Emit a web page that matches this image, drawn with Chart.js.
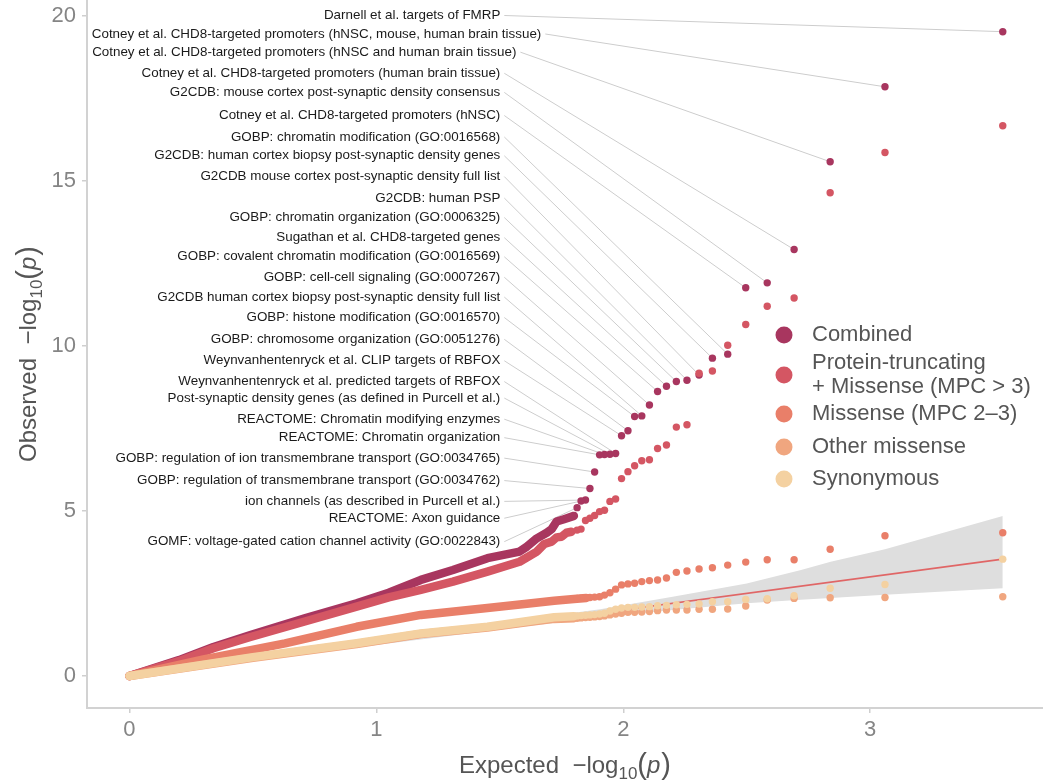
<!DOCTYPE html>
<html lang="en">
<head>
<meta charset="UTF-8">
<title>Gene set QQ plot</title>
<script src="https://cdn.jsdelivr.net/npm/chart.js"></script>
<style>
  html, body { margin: 0; padding: 0; background: #fff; }
  #qq { display: block; }
</style>
</head>
<body>
<canvas id="qq" width="1043" height="782"></canvas>
<script>
// expected -log10(p) for the 27 top ranked gene sets
const expected = [3.537, 3.060, 2.838, 2.692, 2.583, 2.496, 2.423, 2.361, 2.307, 2.258, 2.215, 2.175, 2.139,
  2.106, 2.075, 2.046, 2.019, 1.993, 1.969, 1.946, 1.924, 1.904, 1.884, 1.865, 1.847, 1.829, 1.813];

// observed -log10(p) at those ranks
const combinedTop = [19.52, 17.85, 15.58, 12.92, 11.91, 11.76, 9.75, 9.63, 9.12, 8.96, 8.92, 8.78, 8.62,
  8.21, 7.88, 7.86, 7.43, 7.28, 6.74, 6.72, 6.71, 6.70, 6.18, 5.68, 5.33, 5.30, 5.10];
const ptTop = [16.67, 15.86, 14.64, 11.45, 11.20, 10.65, 10.02, 9.24, 9.17, 7.61, 7.54, 7.00, 6.89,
  6.55, 6.52, 6.37, 6.19, 5.98, 5.36, 5.29, 5.02, 4.98, 4.86, 4.78, 4.71, 4.45, 4.42];
const missenseTop = [4.34, 4.25, 3.84, 3.52, 3.52, 3.45, 3.36, 3.28, 3.24, 3.18, 3.14, 2.97, 2.91,
  2.89, 2.86, 2.81, 2.79, 2.76, 2.63, 2.52, 2.45, 2.40, 2.39, 2.38, 2.37, 2.36, 2.35];
const otherTop = [2.40, 2.38, 2.37, 2.35, 2.30, 2.12, 2.03, 2.02, 2.02, 2.00, 2.00, 2.00, 1.98,
  1.95, 1.94, 1.93, 1.93, 1.90, 1.88, 1.85, 1.82, 1.80, 1.79, 1.78, 1.77, 1.76, 1.75];
const synTop = [3.54, 2.77, 2.66, 2.43, 2.34, 2.32, 2.25, 2.25, 2.18, 2.17, 2.16, 2.14, 2.13,
  2.10, 2.09, 2.08, 2.08, 2.06, 2.02, 1.97, 1.90, 1.88, 1.86, 1.85, 1.84, 1.83, 1.82];

// the dense bulk of each series (hundreds of overlapping points), [expected, observed]
const combinedBulk = [[0,0],[0.1,0.24],[0.2,0.48],[0.34,0.88],[0.49,1.24],[0.71,1.75],[0.92,2.2],[1.05,2.52],
  [1.18,2.91],[1.31,3.21],[1.45,3.57],[1.58,3.77],[1.61,3.92],[1.65,4.17],[1.69,4.34],[1.71,4.45],[1.73,4.68],[1.76,4.75],[1.80,4.85]];
const ptBulk = [[0,0],[0.2,0.45],[0.34,0.84],[0.49,1.18],[0.71,1.65],[0.92,2.1],[1.05,2.38],[1.18,2.61],
  [1.31,2.86],[1.45,3.16],[1.58,3.46],[1.65,3.77],[1.68,4.0],[1.71,4.07],[1.73,4.2],[1.75,4.22],[1.77,4.34],[1.79,4.37]];
const missenseBulk = [[0,0],[0.3,0.5],[0.63,0.99],[0.92,1.49],[1.18,1.85],[1.44,2.05],[1.6,2.18],[1.72,2.28],[1.8,2.33],[1.85,2.36]];
const otherBulk = [[0,0],[0.5,0.55],[0.92,0.97],[1.18,1.27],[1.45,1.47],[1.6,1.62],[1.72,1.73],[1.8,1.75]];
const synBulk = [[0,0],[0.5,0.57],[0.92,0.99],[1.18,1.29],[1.45,1.49],[1.6,1.65],[1.72,1.78],[1.8,1.81]];

// null expectation and its 95% band
const nullLine = [[0, 0], [3.537, 3.54]];
const bandX = [0, 0.5, 1.0, 1.3, 1.6, 1.907, 2.2, 2.5, 2.72, 2.84, 3.06, 3.537];
const bandHigh = [0.02, 0.56, 1.08, 1.40, 1.72, 2.02, 2.40, 2.80, 3.21, 3.46, 3.84, 4.85];
const bandLow = [0, 0.46, 0.94, 1.22, 1.50, 1.78, 2.0, 2.2, 2.31, 2.36, 2.46, 2.66];

const xTicks = [0, 1, 2, 3];
const yTicks = [0, 5, 10, 15, 20];

const seriesNames = ['Combined', ['Protein-truncating', '+ Missense (MPC > 3)'], 'Missense (MPC 2\u20133)', 'Other missense', 'Synonymous'];

// labelled gene sets, in Combined rank order
const geneSets = [
  'Darnell et al. targets of FMRP',
  'Cotney et al. CHD8-targeted promoters (hNSC, mouse, human brain tissue)',
  'Cotney et al. CHD8-targeted promoters (hNSC and human brain tissue)',
  'Cotney et al. CHD8-targeted promoters (human brain tissue)',
  'G2CDB: mouse cortex post-synaptic density consensus',
  'Cotney et al. CHD8-targeted promoters (hNSC)',
  'GOBP: chromatin modification (GO:0016568)',
  'G2CDB: human cortex biopsy post-synaptic density genes',
  'G2CDB mouse cortex post-synaptic density full list',
  'G2CDB: human PSP',
  'GOBP: chromatin organization (GO:0006325)',
  'Sugathan et al. CHD8-targeted genes',
  'GOBP: covalent chromatin modification (GO:0016569)',
  'GOBP: cell-cell signaling (GO:0007267)',
  'G2CDB human cortex biopsy post-synaptic density full list',
  'GOBP: histone modification (GO:0016570)',
  'GOBP: chromosome organization (GO:0051276)',
  'Weynvanhentenryck et al. CLIP targets of RBFOX',
  'Weynvanhentenryck et al. predicted targets of RBFOX',
  'Post-synaptic density genes (as defined in Purcell et al.)',
  'REACTOME: Chromatin modifying enzymes',
  'REACTOME: Chromatin organization',
  'GOBP: regulation of ion transmembrane transport (GO:0034765)',
  'GOBP: regulation of transmembrane transport (GO:0034762)',
  'ion channels (as described in Purcell et al.)',
  'REACTOME: Axon guidance',
  'GOMF: voltage-gated cation channel activity (GO:0022843)'
];
// where the repelled labels sit (right edge x, centre y)
const labelY = [20.01, 19.45, 18.90, 18.26, 17.68, 16.98, 16.33, 15.76, 15.13, 14.48, 13.89, 13.28, 12.70,
  12.08, 11.48, 10.86, 10.20, 9.55, 8.92, 8.42, 7.78, 7.22, 6.60, 5.92, 5.29, 4.78, 4.07];
const labelX = geneSets.map((s, i) => i === 1 ? 1.668 : i === 2 ? 1.567 : 1.502);

const colors = ['#a8365f', '#d45663', '#e97f69', '#f0a67f', '#f4d1a1'];
const FONT = '"Liberation Sans", Arial, sans-serif';

const pairs = arr => arr.map(p => ({x: p[0], y: p[1]}));
const ranked = vals => vals.map((v, i) => ({x: expected[i], y: v}));

function pointSet(vals, c) {
  return {type: 'scatter', data: ranked(vals), backgroundColor: c, pointRadius: 3.7, pointBorderWidth: 0};
}
function bulkSet(arr, c) {
  return {type: 'line', data: pairs(arr), borderColor: c, borderWidth: 8.5, pointRadius: 0,
    borderCapStyle: 'round', borderJoinStyle: 'round', tension: 0, fill: false};
}

// first dataset is drawn on top
const datasets = [
  pointSet(synTop, colors[4]), bulkSet(synBulk, colors[4]),
  pointSet(otherTop, colors[3]), bulkSet(otherBulk, colors[3]),
  pointSet(missenseTop, colors[2]), bulkSet(missenseBulk, colors[2]),
  pointSet(ptTop, colors[1]), bulkSet(ptBulk, colors[1]),
  pointSet(combinedTop, colors[0]), bulkSet(combinedBulk, colors[0]),
  {type: 'line', data: pairs(nullLine), borderColor: '#e06666', borderWidth: 1.6, pointRadius: 0, fill: false},
  {type: 'line', data: bandX.map((x, i) => ({x, y: bandHigh[i]})), borderWidth: 0, pointRadius: 0,
    backgroundColor: '#dedede', fill: '+1', tension: 0},
  {type: 'line', data: bandX.map((x, i) => ({x, y: bandLow[i]})), borderWidth: 0, pointRadius: 0, fill: false, tension: 0}
];

// draws a run of text pieces (for -log10(p)) starting at x
function mathRun(ctx, parts, x, y) {
  parts.forEach(p => {
    ctx.font = (p.italic ? 'italic ' : '') + p.size + 'px ' + FONT;
    ctx.fillText(p.t, x, y + (p.dy || 0));
    x += ctx.measureText(p.t).width + (p.gap || 0);
  });
}
function mathWidth(ctx, parts) {
  return parts.reduce((w, p) => {
    ctx.font = (p.italic ? 'italic ' : '') + p.size + 'px ' + FONT;
    return w + ctx.measureText(p.t).width + (p.gap || 0);
  }, 0);
}
const logParts = word => [
  {t: word + '  \u2212log', size: 24},
  {t: '10', size: 17, dy: 6},
  {t: '(', size: 29, dy: 1},
  {t: 'p', size: 24, italic: true, gap: 1},
  {t: ')', size: 29, dy: 1}
];

const decorations = {
  id: 'decorations',
  beforeDatasetsDraw(chart) {
    const {ctx, scales: {x, y}} = chart;
    ctx.save();
    ctx.strokeStyle = '#cdcdcd';
    ctx.lineWidth = 1;
    geneSets.forEach((name, i) => {
      ctx.beginPath();
      ctx.moveTo(x.getPixelForValue(labelX[i]) + 4, y.getPixelForValue(labelY[i]));
      ctx.lineTo(x.getPixelForValue(expected[i]), y.getPixelForValue(combinedTop[i]));
      ctx.stroke();
    });
    ctx.restore();
  },
  afterDatasetsDraw(chart) {
    const {ctx, scales: {x, y}} = chart;
    ctx.save();
    // gene set labels
    ctx.font = '13.4px ' + FONT;
    ctx.fillStyle = '#1a1a1a';
    ctx.textAlign = 'right';
    ctx.textBaseline = 'middle';
    geneSets.forEach((name, i) => {
      ctx.fillText(name, x.getPixelForValue(labelX[i]), y.getPixelForValue(labelY[i]));
    });
    // legend
    const rows = [335, 375, 414, 447, 479];
    ctx.textAlign = 'left';
    ctx.font = '22px ' + FONT;
    seriesNames.forEach((name, i) => {
      ctx.fillStyle = colors[i];
      ctx.beginPath();
      ctx.arc(784, rows[i], 8.5, 0, Math.PI * 2);
      ctx.fill();
      ctx.fillStyle = '#555555';
      const lines = Array.isArray(name) ? name : [name];
      lines.forEach((l, j) => {
        ctx.fillText(l, 812, rows[i] + (j - (lines.length - 1) / 2) * 24);
      });
    });
    ctx.restore();
  },
  afterDraw(chart) {
    const {ctx, chartArea: a} = chart;
    ctx.save();
    ctx.fillStyle = '#555555';
    ctx.textBaseline = 'alphabetic';
    ctx.textAlign = 'left';
    const xp = logParts('Expected');
    mathRun(ctx, xp, (a.left + a.right) / 2 - mathWidth(ctx, xp) / 2, 773);
    const yp = logParts('Observed');
    ctx.translate(36, (a.top + a.bottom) / 2);
    ctx.rotate(-Math.PI / 2);
    mathRun(ctx, yp, -mathWidth(ctx, yp) / 2, 0);
    ctx.restore();
  }
};

Chart.defaults.font.family = FONT;

new Chart(document.getElementById('qq'), {
  type: 'scatter',
  data: {datasets},
  options: {
    responsive: false,
    animation: false,
    events: [],
    layout: {padding: 0, autoPadding: false},
    plugins: {legend: {display: false}, tooltip: {enabled: false}},
    scales: {
      x: {
        type: 'linear', min: -0.172, max: 3.70,
        afterBuildTicks: s => { s.ticks = xTicks.map(v => ({value: v})); },
        afterFit: s => { s.height = 74; s.paddingLeft = 0; s.paddingRight = 0; },
        ticks: {font: {size: 22}, color: '#858585', padding: 4},
        grid: {drawOnChartArea: false, tickLength: 5, color: '#cfcfcf', lineWidth: 1.5},
        border: {color: '#d2d2d2', width: 2}
      },
      y: {
        type: 'linear', min: -0.97, max: 20.48,
        afterBuildTicks: s => { s.ticks = yTicks.map(v => ({value: v})); },
        afterFit: s => { s.width = 87; s.paddingTop = 0; s.paddingBottom = 0; },
        ticks: {font: {size: 22}, color: '#858585', padding: 6},
        grid: {drawOnChartArea: false, tickLength: 5, color: '#cfcfcf', lineWidth: 1.5},
        border: {color: '#d2d2d2', width: 2}
      }
    }
  },
  plugins: [decorations]
});
</script>
</body>
</html>
